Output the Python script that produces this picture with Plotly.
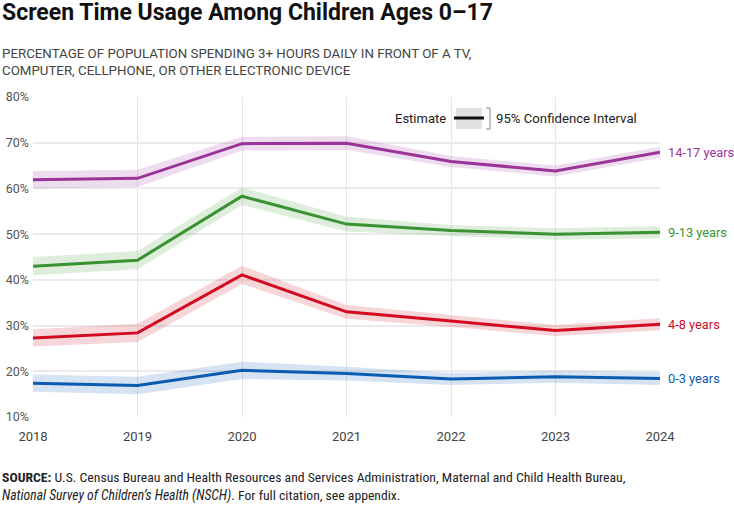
import plotly.graph_objects as go

years = [2018, 2019, 2020, 2021, 2022, 2023, 2024]

groups = ["14-17 years", "9-13 years", "4-8 years", "0-3 years"]
colors = ["#9b3499", "#3a9232", "#d2091f", "#0b5bb0"]
band_colors = ["rgba(155,52,153,0.17)", "rgba(58,146,50,0.17)",
               "rgba(210,9,31,0.17)", "rgba(11,91,176,0.17)"]

est_14_17 = [61.9, 62.2, 69.8, 69.9, 65.9, 63.8, 67.9]
est_9_13 = [43.0, 44.3, 58.3, 52.2, 50.8, 50.0, 50.4]
est_4_8 = [27.3, 28.4, 41.1, 33.0, 31.0, 28.9, 30.3]
est_0_3 = [17.4, 16.9, 20.2, 19.5, 18.3, 18.8, 18.4]

lo_14_17 = [60.0, 60.3, 68.3, 68.4, 64.7, 62.6, 66.7]
hi_14_17 = [63.8, 64.1, 71.3, 71.4, 67.1, 65.0, 69.1]
lo_9_13 = [41.0, 42.3, 56.4, 50.6, 49.6, 48.8, 49.1]
hi_9_13 = [45.0, 46.3, 60.2, 53.8, 52.0, 51.3, 51.7]
lo_4_8 = [25.4, 26.4, 39.1, 31.5, 29.7, 27.7, 29.0]
hi_4_8 = [29.2, 30.4, 43.1, 34.5, 32.3, 30.1, 31.6]
lo_0_3 = [15.5, 15.0, 18.3, 18.0, 17.0, 17.5, 17.0]
hi_0_3 = [19.3, 18.8, 22.1, 21.0, 19.6, 20.1, 19.8]

estimates = [est_14_17, est_9_13, est_4_8, est_0_3]
lows = [lo_14_17, lo_9_13, lo_4_8, lo_0_3]
highs = [hi_14_17, hi_9_13, hi_4_8, hi_0_3]

y_ticks = [10, 20, 30, 40, 50, 60, 70, 80]
y_tick_labels = [f"{v}%" for v in y_ticks]

W, H = 734, 505
L, R, T, B = 33, 74, 97, 88
PW, PH = W - L - R, H - T - B


def px(x):
    return (x - L) / PW


def py(y):
    return (H - B - y) / PH


fig = go.Figure()

for g, est, lo, hi, c, bc in zip(groups, estimates, lows, highs, colors, band_colors):
    fig.add_trace(go.Scatter(
        x=years + years[::-1], y=hi + lo[::-1], fill="toself",
        fillcolor=bc, line=dict(width=0), mode="lines",
        hoverinfo="skip", showlegend=False))
    fig.add_trace(go.Scatter(
        x=years, y=est, mode="lines", name=g,
        line=dict(color=c, width=3), showlegend=False))
    fig.add_annotation(
        x=years[-1], y=est[-1], xref="x", yref="y", text=g,
        showarrow=False, xanchor="left", xshift=6,
        font=dict(family="Roboto", size=12.8, color=c))

font_main = "Roboto"

# Title / subtitle
fig.add_annotation(xref="paper", yref="paper", x=px(0), y=py(-3), xanchor="left", yanchor="top",
                   text="<b>Screen Time Usage Among Children Ages 0–17</b>", showarrow=False,
                   font=dict(family=font_main, size=23, color="#111111"))
fig.add_annotation(xref="paper", yref="paper", x=px(0), y=py(44), xanchor="left", yanchor="top",
                   text="PERCENTAGE OF POPULATION SPENDING 3+ HOURS DAILY IN FRONT OF A TV,<br>"
                        "COMPUTER, CELLPHONE, OR OTHER ELECTRONIC DEVICE",
                   showarrow=False, align="left",
                   font=dict(family=font_main, size=13.3, color="#444444"))

# Source
fig.add_annotation(xref="paper", yref="paper", x=px(0), y=py(467), xanchor="left", yanchor="top",
                   text="<b>SOURCE:</b> U.S. Census Bureau and Health Resources and Services Administration, "
                        "Maternal and Child Health Bureau,<br><i>National Survey of Children’s Health (NSCH)</i>. "
                        "For full citation, see appendix.",
                   showarrow=False, align="left",
                   font=dict(family="Liberation Sans Narrow, Roboto Condensed, Arial Narrow", size=13.7,
                             color="#222222"))

# Legend box
fig.add_annotation(xref="paper", yref="paper", x=px(448), y=py(118), xanchor="right", yanchor="middle",
                   text="Estimate", showarrow=False,
                   font=dict(family=font_main, size=13, color="#222222"))
fig.add_annotation(xref="paper", yref="paper", x=px(494), y=py(118), xanchor="left", yanchor="middle",
                   text="95% Confidence Interval", showarrow=False,
                   font=dict(family=font_main, size=13.2, color="#222222"))
fig.add_shape(type="rect", xref="paper", yref="paper", x0=px(456), x1=px(482), y0=py(108), y1=py(129),
              fillcolor="#e2e2e2", line=dict(width=0))
fig.add_shape(type="line", xref="paper", yref="paper", x0=px(454), x1=px(484), y0=py(118), y1=py(118),
              line=dict(color="#111111", width=3))
fig.add_shape(type="path", xref="paper", yref="paper",
              path=f"M {px(486)} {py(108)} L {px(490)} {py(108)} L {px(490)} {py(129)} L {px(486)} {py(129)}",
              line=dict(color="#888888", width=1))

fig.update_layout(
    width=W, height=H,
    margin=dict(l=L, r=R, t=T, b=B, autoexpand=False),
    paper_bgcolor="white", plot_bgcolor="white",
    showlegend=False,
    xaxis=dict(range=[2018, 2024], tickvals=years, ticktext=[str(y) for y in years],
               showgrid=True, gridcolor="#e6e6e6", gridwidth=1, zeroline=False,
               showline=False, ticks="", ticklabelstandoff=10, automargin=False,
               tickfont=dict(family=font_main, size=13, color="#444444"),
               fixedrange=True),
    yaxis=dict(range=[10, 80], tickvals=y_ticks, ticktext=y_tick_labels,
               showgrid=True, gridcolor="#ebebeb", gridwidth=1.5, zeroline=False,
               showline=False, ticks="", ticklabelstandoff=3, automargin=False,
               tickfont=dict(family=font_main, size=12.5, color="#555555"),
               fixedrange=True),
)

fig.write_html("out.html")
